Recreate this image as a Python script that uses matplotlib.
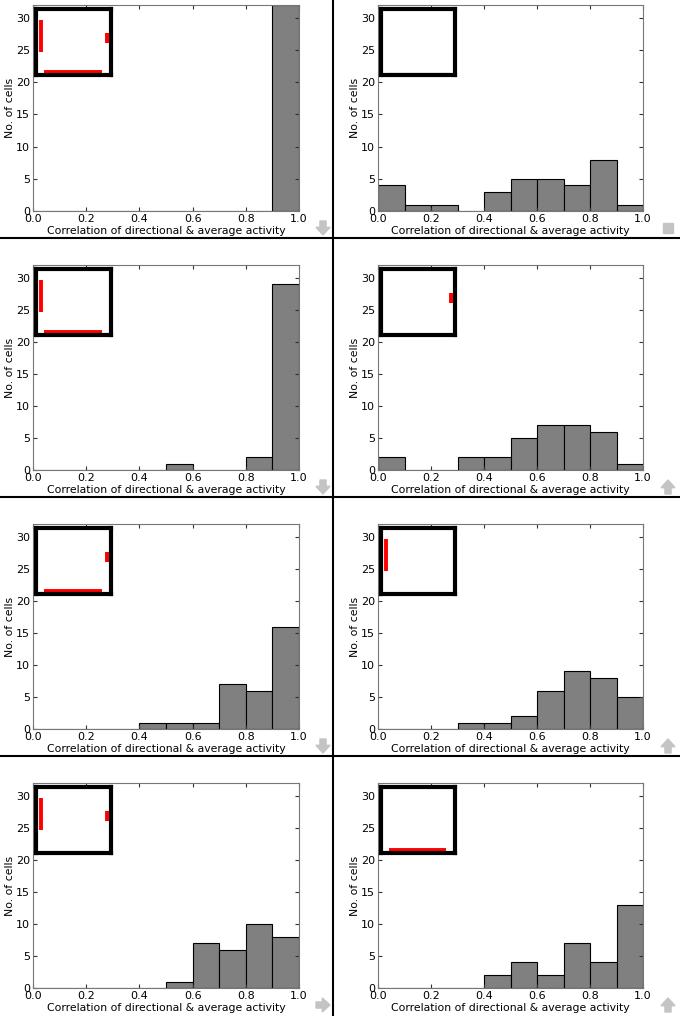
import numpy as np
import matplotlib
matplotlib.use("Agg")
from matplotlib import pyplot as plt
from matplotlib.patches import Polygon, Rectangle
from matplotlib.lines import Line2D

# histogram bins (correlation of directional & average activity)
bin_edges = np.round(np.arange(0.0, 1.01, 0.1), 2)

# cell counts per bin, one list per panel (row by row, left then right)
counts_r1_left = [0, 0, 0, 0, 0, 0, 0, 0, 0, 32]
counts_r1_right = [4, 1, 1, 0, 3, 5, 5, 4, 8, 1]
counts_r2_left = [0, 0, 0, 0, 0, 1, 0, 0, 2, 29]
counts_r2_right = [2, 0, 0, 2, 2, 5, 7, 7, 6, 1]
counts_r3_left = [0, 0, 0, 0, 1, 1, 1, 7, 6, 16]
counts_r3_right = [0, 0, 0, 1, 1, 2, 6, 9, 8, 5]
counts_r4_left = [0, 0, 0, 0, 0, 1, 7, 6, 10, 8]
counts_r4_right = [0, 0, 0, 0, 2, 4, 2, 7, 4, 13]

# red wall cues drawn in the small arena inset of each panel
cues_r1_left = ["left", "right", "bottom"]
cues_r1_right = []
cues_r2_left = ["left", "bottom"]
cues_r2_right = ["right"]
cues_r3_left = ["right", "bottom"]
cues_r3_right = ["left"]
cues_r4_left = ["left", "right"]
cues_r4_right = ["bottom"]

# direction icon at the lower right corner of each panel
icons = ["down", "square", "down", "up", "down", "up", "right", "up"]

panels = [
    (counts_r1_left, cues_r1_left), (counts_r1_right, cues_r1_right),
    (counts_r2_left, cues_r2_left), (counts_r2_right, cues_r2_right),
    (counts_r3_left, cues_r3_left), (counts_r3_right, cues_r3_right),
    (counts_r4_left, cues_r4_left), (counts_r4_right, cues_r4_right),
]

W, H = 680, 1016
fig = plt.figure(figsize=(W / 100, H / 100), dpi=100)

def px_rect(x0, y0, x1, y1):
    # pixel box (top-left origin) -> figure fraction rect
    return [x0 / W, 1 - y1 / H, (x1 - x0) / W, (y1 - y0) / H]

col_x = [(33, 299), (378, 643)]
row_bottom = [211, 470, 729, 988]
row_top = [5, 265, 524, 783]

cue_lines = {
    "left": ([0.06, 0.06], [0.35, 0.84]),
    "right": ([0.945, 0.945], [0.48, 0.64]),
    "bottom": ([0.10, 0.88], [0.045, 0.045]),
}

def draw_icon(kind, cx, cy, size=14):
    col = "#c4c4c4"
    if kind == "square":
        s = size * 0.65
        fig.patches.append(Rectangle(((cx - s / 2) / W, 1 - (cy + s / 2) / H),
                                     s / W, s / H, transform=fig.transFigure,
                                     color=col))
        return
    # unit arrow pointing down (y up)
    shape = np.array([[-0.22, 0.5], [0.22, 0.5], [0.22, 0.05], [0.5, 0.05],
                      [0.0, -0.5], [-0.5, 0.05], [-0.22, 0.05]])
    ang = {"down": 0, "up": np.pi, "right": np.pi / 2}[kind]
    rot = np.array([[np.cos(ang), -np.sin(ang)], [np.sin(ang), np.cos(ang)]])
    pts = shape @ rot.T * size
    pts[:, 0] = (cx + pts[:, 0]) / W
    pts[:, 1] = 1 - (cy - pts[:, 1]) / H
    fig.patches.append(Polygon(pts, closed=True, transform=fig.transFigure,
                               color=col))

icon_x = [323, 668]
icon_y = [228, 487, 746, 1005]

for i, (counts, cues) in enumerate(panels):
    r, c = divmod(i, 2)
    x0, x1 = col_x[c]
    ax = fig.add_axes(px_rect(x0, row_top[r], x1, row_bottom[r]))
    ax.bar(bin_edges[:-1], counts, width=0.1, align="edge",
           color="#808080", edgecolor="black", linewidth=0.8)
    ax.set_xlim(0, 1)
    ax.set_ylim(0, 32)
    ax.set_xticks(np.arange(0, 1.01, 0.2))
    ax.set_xticklabels(["%.1f" % v for v in np.arange(0, 1.01, 0.2)])
    ax.set_yticks([0, 5, 10, 15, 20, 25, 30])
    ax.tick_params(direction="in", top=True, right=True, length=3,
                   labelsize=8, pad=2, color="#333333")
    for sp in ax.spines.values():
        sp.set_color("#777777")
        sp.set_linewidth(0.8)
    ax.set_xlabel("Correlation of directional & average activity",
                  fontsize=7.8, labelpad=1.5)
    ax.set_ylabel("No. of cells", fontsize=7.8, labelpad=1)

    # arena inset
    ins = ax.inset_axes([0.012, 0.66, 0.28, 0.32])
    ins.set_xlim(0, 1)
    ins.set_ylim(0, 1)
    ins.set_xticks([])
    ins.set_yticks([])
    for sp in ins.spines.values():
        sp.set_color("black")
        sp.set_linewidth(3.0)
    for cue in cues:
        xs, ys = cue_lines[cue]
        ins.add_line(Line2D(xs, ys, color="red", linewidth=2.8,
                            solid_capstyle="butt"))
    if not cues:
        ins.add_line(Line2D([0.08, 0.9], [0.035, 0.035], color="#8b1a1a",
                            linewidth=0.8))

    draw_icon(icons[i], icon_x[c], icon_y[r])

# panel separators
fig.add_artist(Line2D([333 / W, 333 / W], [0, 1], color="black",
                      linewidth=1.5, transform=fig.transFigure))
for yy in [238, 497, 756]:
    fig.add_artist(Line2D([0, 1], [1 - yy / H, 1 - yy / H], color="black",
                          linewidth=1.5, transform=fig.transFigure))

fig.savefig("out.png", dpi=100)
